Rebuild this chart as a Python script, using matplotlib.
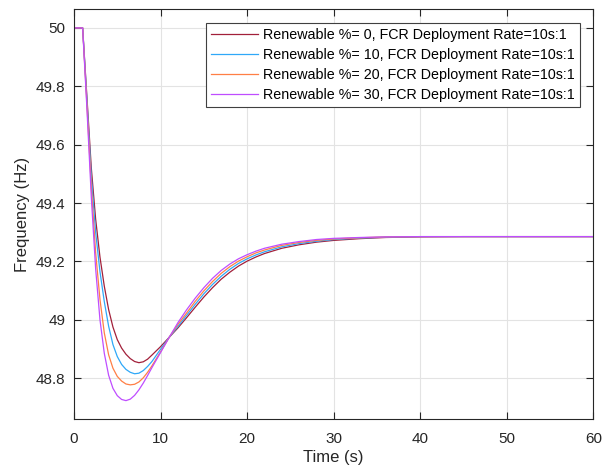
import matplotlib
matplotlib.use("Agg")
import matplotlib.pyplot as plt
from matplotlib.ticker import FuncFormatter

plt.rcParams['font.family'] = ['Liberation Sans', 'DejaVu Sans']

# time axis (s)
t = [0, 1, 1.5, 2, 2.5, 3, 3.5, 4, 4.5, 5, 5.5, 6, 6.5, 7, 7.5, 8, 8.5, 9,
     10, 11, 12, 13, 14, 15, 16, 17, 18, 19, 20, 21, 22, 24, 26, 28, 30, 33, 36, 40, 45, 50, 60]

# frequency (Hz) for each renewable share
f_re0 = [50, 50, 49.76, 49.52, 49.345, 49.215, 49.115, 49.035, 48.975, 48.932, 48.903, 48.882,
         48.867, 48.857, 48.853, 48.856, 48.865, 48.879,
         48.908, 48.94, 48.972, 49.007, 49.043, 49.078, 49.11, 49.139, 49.163, 49.184, 49.201,
         49.215, 49.227, 49.245, 49.257, 49.266, 49.272, 49.278, 49.282, 49.284, 49.285, 49.285, 49.285]
f_re10 = [50, 50, 49.75, 49.49, 49.3, 49.165, 49.062, 48.978, 48.915, 48.874, 48.847, 48.83,
          48.82, 48.815, 48.817, 48.826, 48.84, 48.857,
          48.899, 48.94, 48.977, 49.015, 49.053, 49.089, 49.121, 49.149, 49.173, 49.193, 49.209,
          49.222, 49.233, 49.25, 49.261, 49.269, 49.275, 49.28, 49.283, 49.285, 49.285, 49.285, 49.285]
f_re20 = [50, 50, 49.735, 49.455, 49.23, 49.07, 48.955, 48.88, 48.834, 48.806, 48.79, 48.78,
          48.777, 48.779, 48.787, 48.801, 48.82, 48.842,
          48.89, 48.94, 48.984, 49.023, 49.063, 49.099, 49.131, 49.159, 49.182, 49.201, 49.216,
          49.229, 49.239, 49.255, 49.265, 49.272, 49.277, 49.281, 49.284, 49.285, 49.285, 49.285, 49.285]
f_re30 = [50, 50, 49.72, 49.42, 49.175, 49.0, 48.885, 48.81, 48.765, 48.74, 48.727, 48.723,
          48.728, 48.741, 48.76, 48.783, 48.809, 48.836,
          48.888, 48.94, 48.99, 49.034, 49.074, 49.11, 49.142, 49.169, 49.191, 49.209, 49.223,
          49.235, 49.245, 49.259, 49.268, 49.275, 49.279, 49.282, 49.284, 49.285, 49.285, 49.285, 49.285]

labels = ["Renewable %= 0, FCR Deployment Rate=10s:1",
          "Renewable %= 10, FCR Deployment Rate=10s:1",
          "Renewable %= 20, FCR Deployment Rate=10s:1",
          "Renewable %= 30, FCR Deployment Rate=10s:1"]
colors = ["#A2203A", "#2FA8F8", "#FF7F45", "#BF4DFF"]

fig = plt.figure(figsize=(6.09, 4.70), dpi=100)
ax = fig.add_axes([0.1215, 0.1085, 0.853, 0.8724])

for y, lab, c in zip([f_re0, f_re10, f_re20, f_re30], labels, colors):
    ax.plot(t, y, color=c, lw=0.9, label=lab)

ax.set_xlim(0, 60)
ax.set_ylim(48.66, 50.065)
ax.set_xticks([0, 10, 20, 30, 40, 50, 60])
ax.set_yticks([48.8, 49, 49.2, 49.4, 49.6, 49.8, 50])
ax.yaxis.set_major_formatter(FuncFormatter(lambda v, p: "%g" % round(v, 2)))
ax.grid(True, color="#E3E3E3", lw=0.8)
ax.set_axisbelow(True)
ax.tick_params(direction="in", length=5, width=0.8, top=True, right=True,
               labelsize=11, colors="#262626")
ax.tick_params(axis="x", pad=9)
ax.tick_params(axis="y", pad=6)
for s in ax.spines.values():
    s.set_color("#262626")
    s.set_linewidth(0.8)

ax.set_xlabel("Time (s)", fontsize=12, color="#262626", labelpad=3)
ax.set_ylabel("Frequency (Hz)", fontsize=12, color="#262626", labelpad=4)

leg = ax.legend(loc="upper right", bbox_to_anchor=(0.974, 0.9666), borderaxespad=0,
                fontsize=10.3, fancybox=False, framealpha=1, edgecolor="#404040",
                handlelength=3.3, handletextpad=0.33, labelspacing=0.42, borderpad=0.35)
leg.get_frame().set_linewidth(0.8)

fig.savefig("out.png", dpi=100)
